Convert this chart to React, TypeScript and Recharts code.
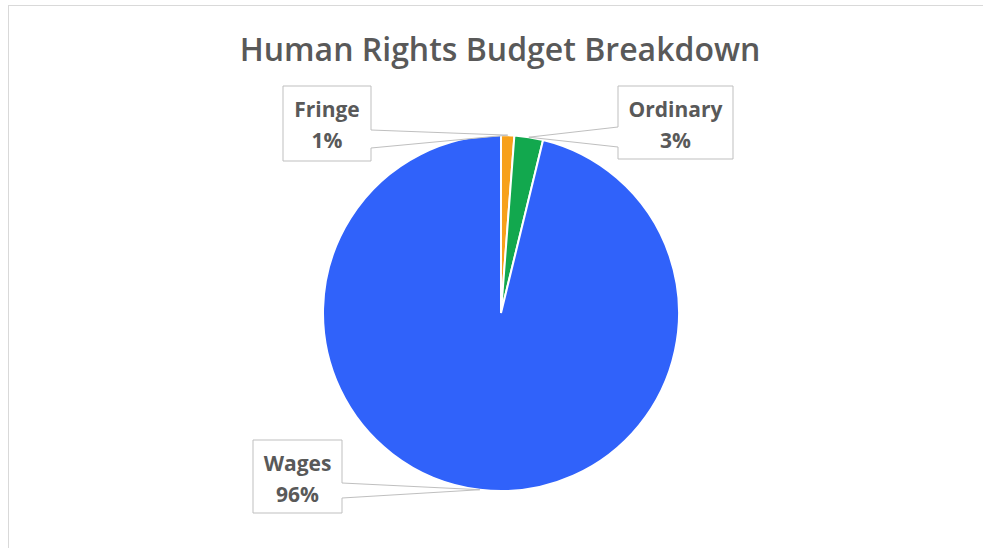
import React from 'react';
import { PieChart, Pie, Cell } from 'recharts';

const categories = ['Fringe', 'Ordinary', 'Wages'];
const amounts = [1.2, 2.6, 96.2];
const COLORS = ['#F7A11A', '#12A84E', '#3062FA'];

const data = categories.map((name, i) => ({ name, value: amounts[i] }));
const total = amounts.reduce((s, v) => s + v, 0);

// callout boxes, placed by hand like the original
const CALLOUTS: Record<string, { x: number; y: number; w: number; h: number; side: 'left' | 'right'; b1: number; b2: number }> = {
  Fringe: { x: 283, y: 86, w: 88, h: 75, side: 'right', b1: 44, b2: 62 },
  Ordinary: { x: 618, y: 86, w: 115, h: 73, side: 'left', b1: 41, b2: 61 },
  Wages: { x: 253, y: 440, w: 89, h: 73, side: 'right', b1: 43, b2: 58 },
};

const RAD = Math.PI / 180;
const FONT = '"Open Sans", sans-serif';

function renderCallout(props: any) {
  const { cx, cy, outerRadius, midAngle, name, value } = props;
  const c = CALLOUTS[name];
  if (!c) return null;
  const tx = cx + outerRadius * Math.cos(-midAngle * RAD);
  const ty = cy + outerRadius * Math.sin(-midAngle * RAD);
  const x0 = c.x, x1 = c.x + c.w, y0 = c.y, y1 = c.y + c.h;
  const d = c.side === 'right'
    ? `M${x0},${y0} H${x1} V${y0 + c.b1} L${tx},${ty} L${x1},${y0 + c.b2} V${y1} H${x0} Z`
    : `M${x0},${y0} H${x1} V${y1} H${x0} V${y0 + c.b2} L${tx},${ty} L${x0},${y0 + c.b1} Z`;
  const mid = c.x + c.w / 2;
  return (
    <g key={`callout-${name}`}>
      <path d={d} fill="#fff" stroke="#bfbfbf" strokeWidth={1} />
      <text x={mid} y={y0 + 31} textAnchor="middle" fill="#595959" fontFamily={FONT} fontWeight={700} fontSize={21}>
        {name}
      </text>
      <text x={mid} y={y0 + 62} textAnchor="middle" fill="#595959" fontFamily={FONT} fontWeight={700} fontSize={21}>
        {Math.round((value / total) * 100)}%
      </text>
    </g>
  );
}

export default function App() {
  return (
    <div style={{ position: 'fixed', left: 0, top: 0, width: 983, height: 548, overflow: 'hidden', background: '#fff' }}>
      <div style={{ position: 'absolute', left: 8, top: 5, width: 1000, height: 600, border: '1px solid #d9d9d9' }} />
      <svg width={983} height={80} style={{ position: 'absolute', left: 0, top: 0 }}>
        <text x={500} y={61} textAnchor="middle" fill="#595959" fontFamily={FONT} fontWeight={600} fontSize={32}>
          Human Rights Budget Breakdown
        </text>
      </svg>
      <div style={{ position: 'absolute', left: 0, top: 0 }}>
        <PieChart width={983} height={548} margin={{ top: 0, right: 0, bottom: 0, left: 0 }}>
          <Pie
            data={data}
            dataKey="value"
            nameKey="name"
            cx={501}
            cy={313}
            outerRadius={178}
            startAngle={90}
            endAngle={-270}
            stroke="#fff"
            strokeWidth={2}
            label={renderCallout}
            labelLine={false}
            isAnimationActive={false}
          >
            {data.map((entry, i) => (
              <Cell key={`cell-${entry.name}`} fill={COLORS[i]} />
            ))}
          </Pie>
        </PieChart>
      </div>
    </div>
  );
}
